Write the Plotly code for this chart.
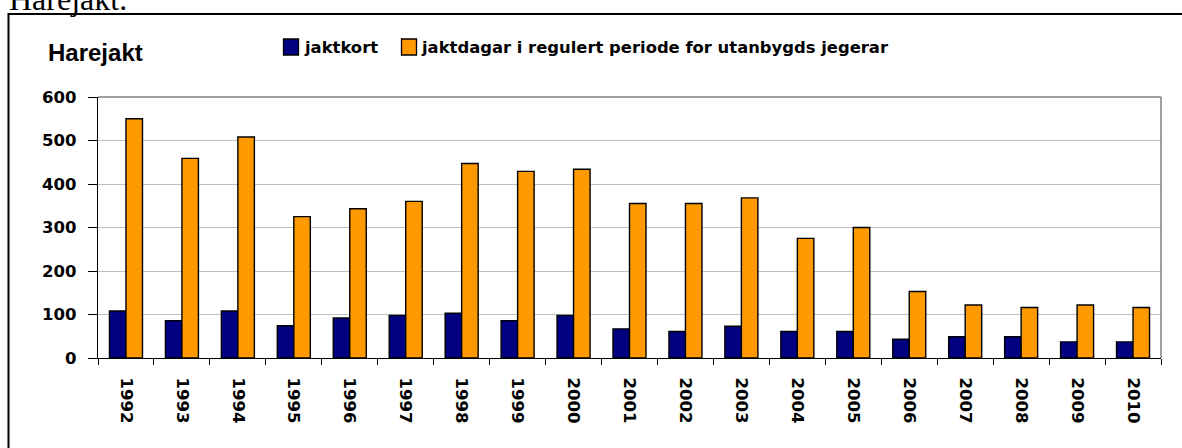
import plotly.graph_objects as go

years = ["1992", "1993", "1994", "1995", "1996", "1997", "1998", "1999", "2000", "2001",
         "2002", "2003", "2004", "2005", "2006", "2007", "2008", "2009", "2010"]
jaktkort = [108, 86, 108, 74, 92, 98, 103, 86, 98, 67, 61, 73, 61, 61, 43, 49, 49, 37, 37]
jaktdagar = [550, 459, 508, 325, 343, 360, 447, 429, 434, 355, 355, 368, 275, 300, 153, 122, 116, 122, 116]
series_names = ["jaktkort", "jaktdagar i regulert periode for utanbygds jegerar"]
series_colors = ["#000080", "#FF9900"]
y_ticks = [0, 100, 200, 300, 400, 500, 600]

W, H = 1182, 448
ML, MR, MT, MB = 98, 21, 97, 90
PW, PH = W - ML - MR, H - MT - MB


def px(x):
    return (x - ML) / PW


def py(y):
    return (H - MB - y) / PH


TICKFONT = dict(family="DejaVu Sans", size=16.5, color="black", weight="bold")

fig = go.Figure()
for name, vals, col in zip(series_names, [jaktkort, jaktdagar], series_colors):
    fig.add_trace(go.Bar(
        x=years, y=vals, name=name,
        marker=dict(color=col, line=dict(color="black", width=1.4)),
        showlegend=False,
    ))

shapes = [
    # outer frame
    dict(type="rect", xref="paper", yref="paper", x0=px(8.5), x1=px(1200), y0=py(14), y1=py(470),
         line=dict(color="black", width=2), fillcolor="rgba(0,0,0,0)", layer="below"),
    # plot area top and right border
    dict(type="line", xref="paper", yref="paper", x0=0, x1=1, y0=1, y1=1,
         line=dict(color="#808080", width=1.5), layer="above"),
    dict(type="line", xref="paper", yref="paper", x0=1, x1=1, y0=0, y1=1,
         line=dict(color="#808080", width=1.5), layer="above"),
]
annotations = [
    dict(text="Harejakt.", xref="paper", yref="paper", x=px(7), y=py(-1), xanchor="left", yanchor="middle",
         showarrow=False, font=dict(family="Liberation Serif", size=32, color="black")),
    dict(text="Harejakt", xref="paper", yref="paper", x=px(46), y=py(53), xanchor="left", yanchor="middle",
         showarrow=False, font=dict(family="Liberation Sans", size=24, color="black", weight="bold")),
]
legend_pos = [(283.5, 302), (401.5, 419)]
for (sx, tx), name, col in zip(legend_pos, series_names, series_colors):
    shapes.append(dict(type="rect", xref="paper", yref="paper", x0=px(sx), x1=px(sx + 15),
                       y0=py(55), y1=py(39), fillcolor=col, line=dict(color="black", width=1.3)))
    annotations.append(dict(text=name, xref="paper", yref="paper", x=px(tx), y=py(48),
                            xanchor="left", yanchor="middle", showarrow=False,
                            font=dict(family="DejaVu Sans", size=16.4, color="black", weight="bold")))

fig.update_layout(
    width=W, height=H,
    margin=dict(l=ML, r=MR, t=MT, b=MB, pad=0, autoexpand=False),
    paper_bgcolor="white", plot_bgcolor="white",
    barmode="group", bargap=0.41, bargroupgap=0,
    shapes=shapes, annotations=annotations,
    xaxis=dict(type="category", tickson="boundaries", ticks="outside", ticklen=6, tickwidth=1.3,
               tickcolor="black", showline=True, linecolor="black", linewidth=1.3,
               showgrid=False, tickangle=90, tickfont=TICKFONT, ticklabelstandoff=15),
    yaxis=dict(range=[0, 600], tickvals=y_ticks, ticks="outside", ticklen=9, tickwidth=1.3,
               tickcolor="black", showline=True, linecolor="black", linewidth=1.3,
               showgrid=True, gridcolor="#C0C0C0", gridwidth=1.3, zeroline=False,
               tickfont=TICKFONT, ticklabelstandoff=8),
)

fig.write_html("out.html", config={"displayModeBar": False},
               post_script="document.body.style.margin='0';")
